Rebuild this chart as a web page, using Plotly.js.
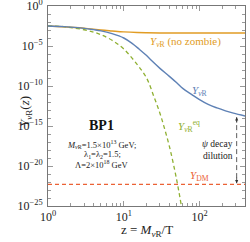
<!DOCTYPE html>
<html><head><meta charset="utf-8">
<script src="https://cdn.plot.ly/plotly-3.0.1.min.js"></script>
<style>html,body{margin:0;padding:0;background:#fff}#c{width:250px;height:242px}</style>
</head><body><div id="c"></div>
<script>
// z = M/T grids and yields
const zNoZombie = [1, 2, 3, 5, 7, 10, 15, 20, 30, 50, 100, 400];
const yNoZombie = [3.2e-3, 2.2e-3, 1.7e-3, 1.0e-3, 7.6e-4, 5.8e-4, 4.8e-4, 4.5e-4, 4.3e-4, 4.2e-4, 4.2e-4, 4.2e-4];

const zNuR = [1, 1.5, 2, 3, 4, 5, 7, 10, 13, 16, 20, 25, 30, 40, 50, 60, 80, 100, 130, 170, 220, 280, 400];
const yNuR = [3.2e-3, 2.7e-3, 2.3e-3, 1.6e-3, 1.1e-3, 7.9e-4, 3.5e-4, 1.0e-4, 2.0e-5, 4.0e-6, 6.3e-7, 7.9e-8, 1.6e-8, 1.6e-9, 2.5e-10, 5.0e-11, 7.9e-12, 2.0e-12, 5.0e-13, 1.8e-13, 7.9e-14, 4.0e-14, 1.8e-14];

const zEq = [1, 1.5, 2, 3, 4, 5, 7, 10, 15, 20, 25, 30, 35, 40, 45, 50, 55, 60];
const yEq = [3.2e-3, 2.8e-3, 2.0e-3, 1.07e-3, 5.4e-4, 2.6e-4, 5.2e-5, 4.2e-6, 5.0e-8, 1.0e-9, 4.6e-12, 4.0e-14, 3.0e-16, 2.8e-18, 2.2e-20, 1.7e-22, 1.3e-24, 1.0e-26];

const zDM = [1, 400];
const yDMval = 5e-23;
const yDM = zDM.map(() => yDMval);

const xTickVals = [1, 10, 100];
const xTickText = ['10<sup>0</sup>', '10<sup>1</sup>', '10<sup>2</sup>'];
const yTickVals = [1, 1e-5, 1e-10, 1e-15, 1e-20, 1e-25];
const yTickText = ['10<sup>0</sup>', '10<sup>−5</sup>', '10<sup>−10</sup>', '10<sup>−15</sup>', '10<sup>−20</sup>', '10<sup>−25</sup>'];

const xMinor = [];
for (let d = 0; d <= 2; d++) for (let k = 2; k <= 9; k++) xMinor.push(k * Math.pow(10, d));
const yMinor = [];
for (let e = 0; e >= -25; e--) if (e % 5 !== 0) yMinor.push(Math.pow(10, e));

const C = {blue: '#5E81B5', orange: '#E19C24', green: '#8FB032', red: '#EB6235'};
const F = 'Liberation Serif, Times New Roman, serif';

const traces = [
  {x: zNoZombie, y: yNoZombie, mode: 'lines', line: {color: C.orange, width: 1.4, shape: 'spline'}},
  {x: zEq, y: yEq, mode: 'lines', line: {color: C.green, width: 1.3, dash: '4px,3px', shape: 'spline'}},
  {x: zNuR, y: yNuR, mode: 'lines', line: {color: C.blue, width: 1.4, shape: 'spline'}},
  {x: zDM, y: yDM, mode: 'lines', line: {color: C.red, width: 1.2, dash: '4px,3px'}}
];

const axisCommon = {
  type: 'log', showgrid: false, zeroline: false, showline: true, linecolor: '#777', linewidth: 1,
  mirror: 'allticks', ticks: 'inside', ticklen: 5, tickcolor: '#999', tickwidth: 1,
  tickmode: 'array', ticklabeloverflow: 'allow', tickfont: {family: F, size: 12, color: '#222'}
};

const layout = {
  width: 250, height: 242,
  margin: {l: 48, r: 5, t: 6, b: 36},
  paper_bgcolor: '#fff', plot_bgcolor: '#fff',
  showlegend: false,
  xaxis: Object.assign({}, axisCommon, {
    range: [0, 2.6], tickvals: xTickVals, ticktext: xTickText,
    minor: {tickmode: 'array', tickvals: xMinor, ticks: 'inside', ticklen: 3, tickcolor: '#999'}
  }),
  yaxis: Object.assign({}, axisCommon, {
    range: [-25, 0], tickvals: yTickVals, ticktext: yTickText, ticklabelstandoff: 2,
    minor: {tickmode: 'array', tickvals: yMinor, ticks: 'inside', ticklen: 3, tickcolor: '#999'}
  }),
  annotations: [
    {xref: 'paper', yref: 'paper', x: -0.17, y: 0.47, text: '<i>Y</i><sub><i>ν</i>R</sub>(<i>z</i>)', textangle: -90,
     showarrow: false, font: {family: F, size: 13, color: '#222'}},
    {xref: 'paper', yref: 'paper', x: 0.5, y: -0.12, yanchor: 'middle', text: 'z = <i>M</i><sub><i>ν</i>R</sub>/T',
     showarrow: false, font: {family: F, size: 13, color: '#222'}},
    {x: 1.82, y: -4.45, text: '<i>Y</i><sub><i>ν</i>R</sub> (no zombie)', showarrow: false,
     font: {family: F, size: 11, color: C.orange}},
    {x: 2.0, y: -10.6, text: '<i>Y</i><sub><i>ν</i>R</sub>', showarrow: false,
     font: {family: F, size: 11, color: C.blue}},
    {x: 1.86, y: -15.0, text: '<i>Y</i><sub><i>ν</i>R</sub><sup>eq</sup>', showarrow: false,
     font: {family: F, size: 11, color: C.green}},
    {x: 2.24, y: -17.3, text: '<i>ψ</i> decay', showarrow: false,
     font: {family: F, size: 9.5, color: '#222'}},
    {x: 2.24, y: -18.7, text: 'dilution', showarrow: false,
     font: {family: F, size: 9.5, color: '#222'}},
    {x: 2.0, y: -21.2, text: '<i>Y</i><sub>DM</sub>', showarrow: false,
     font: {family: F, size: 11, color: C.red}},
    {x: 0.71, y: -14.9, text: '<b>BP1</b>', showarrow: false,
     font: {family: F, size: 14, color: '#111'}},
    {x: 0.70, y: -17.3, text: '<i>M</i><sub><i>ν</i>R</sub>=1.5×10<sup>13</sup> GeV;', showarrow: false,
     font: {family: F, size: 8.5, color: '#222'}},
    {x: 0.72, y: -18.55, text: 'λ<sub>1</sub>=λ<sub>2</sub>=1.5;', showarrow: false,
     font: {family: F, size: 8.5, color: '#222'}},
    {x: 0.70, y: -19.75, text: 'Λ=2×10<sup>18</sup> GeV', showarrow: false,
     font: {family: F, size: 8.5, color: '#222'}},
    {x: 2.49, y: -13.9, ax: 0, ay: 7, text: '', showarrow: true, arrowhead: 2, arrowsize: 0.8, arrowwidth: 0.8, arrowcolor: '#333'},
    {x: 2.49, y: -22.15, ax: 0, ay: -7, text: '', showarrow: true, arrowhead: 2, arrowsize: 0.8, arrowwidth: 0.8, arrowcolor: '#333'}
  ],
  shapes: [
    {type: 'line', xref: 'x', yref: 'y', x0: Math.pow(10, 2.49), x1: Math.pow(10, 2.49), y0: 1.3e-14, y1: 7e-23,
     line: {color: '#333', width: 0.8, dash: '5px,3px'}}
  ]
};

Plotly.newPlot('c', traces, layout, {staticPlot: true, displayModeBar: false});
</script></body></html>
